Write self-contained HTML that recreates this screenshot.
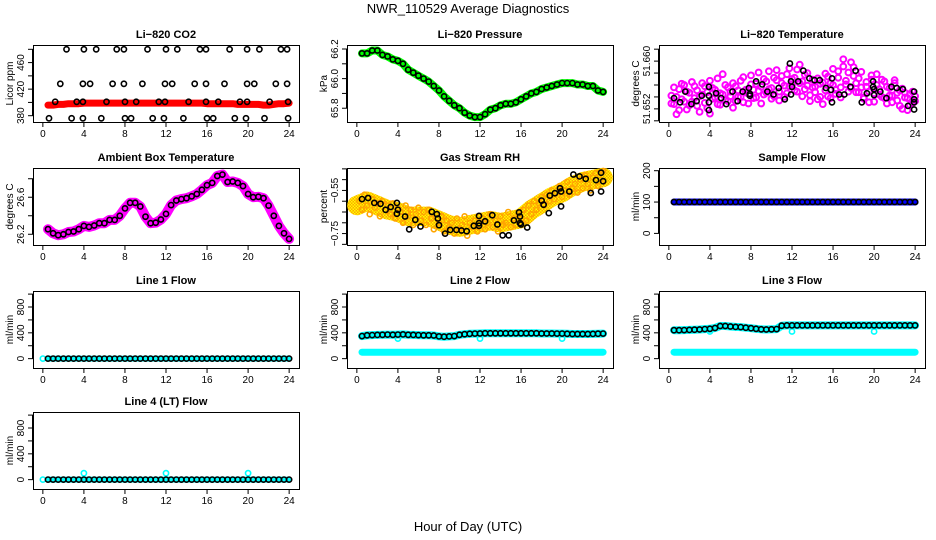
<!DOCTYPE html>
<html><head><meta charset="utf-8">
<style>
body{margin:0;background:#fff;}
svg{display:block;font-family:"Liberation Sans",Arial,sans-serif;}
</style></head>
<body>
<svg id="chart" width="936" height="540" viewBox="0 0 936 540">
<defs>
<pattern id="rhpat" width="3" height="3" patternUnits="userSpaceOnUse">
<rect width="3" height="3" fill="#ffa500"/><rect width="1.5" height="1.5" fill="#ff0"/><rect x="1.5" y="1.5" width="1.5" height="1.5" fill="#ff0"/>
</pattern>
</defs>
<text x="468" y="13" text-anchor="middle" font-size="13">NWR_110529  Average Diagnostics</text>
<text x="468" y="531" text-anchor="middle" font-size="13">Hour of Day (UTC)</text>
</svg>
<script>
const halfHours=[0.5,1,1.5,2,2.5,3,3.5,4,4.5,5,5.5,6,6.5,7,7.5,8,8.5,9,9.5,10,10.5,11,11.5,12,12.5,13,13.5,14,14.5,15,15.5,16,16.5,17,17.5,18,18.5,19,19.5,20,20.5,21,21.5,22,22.5,23,23.5,24];
const quarterHours=[0.25,0.5,0.75,1,1.25,1.5,1.75,2,2.25,2.5,2.75,3,3.25,3.5,3.75,4,4.25,4.5,4.75,5,5.25,5.5,5.75,6,6.25,6.5,6.75,7,7.25,7.5,7.75,8,8.25,8.5,8.75,9,9.25,9.5,9.75,10,10.25,10.5,10.75,11,11.25,11.5,11.75,12,12.25,12.5,12.75,13,13.25,13.5,13.75,14,14.25,14.5,14.75,15,15.25,15.5,15.75,16,16.25,16.5,16.75,17,17.25,17.5,17.75,18,18.25,18.5,18.75,19,19.25,19.5,19.75,20,20.25,20.5,20.75,21,21.25,21.5,21.75,22,22.25,22.5,22.75,23,23.25,23.5,23.75,24];
const hourly=[0,1,2,3,4,5,6,7,8,9,10,11,12,13,14,15,16,17,18,19,20,21,22,23,24];
const xTicks=[0,4,8,12,16,20,24];

// CO2
const co2Band=[396,396,397,397,398,398,398,399,399,399,399,399,399,399,399,399,399,399,399,399,399,399,399,399,399,399,399,399,399,399,399,398,398,398,398,398,398,397,397,397,397,397,396,396,397,398,398,399];
const co2Hours480=[2.3,4.0,5.2,7.2,7.9,10.2,12.0,13.1,15.3,15.9,18.2,19.9,21.1,23.2,23.8];
const co2Hours428=[1.7,3.9,4.6,6.8,7.9,9.7,11.9,12.6,14.8,15.9,17.7,19.9,20.6,22.7,23.8];
const co2Hours401=[1.2,3.3,3.9,6.2,8.0,9.1,11.3,11.9,14.2,15.9,17.1,19.2,19.9,22.1,23.9];
const co2Hours376=[0.6,2.8,3.9,5.7,8.0,8.6,10.7,11.8,13.7,16.0,16.6,18.7,19.8,21.6,23.9];
const co2Levels=[480,428,401,376];
// Pressure
const pressureVals=[66.17,66.17,66.19,66.19,66.16,66.15,66.13,66.12,66.10,66.06,66.04,66.02,66.00,65.98,65.95,65.92,65.88,65.85,65.82,65.80,65.77,65.75,65.74,65.74,65.76,65.79,65.80,65.82,65.83,65.83,65.84,65.86,65.88,65.90,65.91,65.93,65.94,65.95,65.96,65.97,65.97,65.97,65.96,65.96,65.95,65.95,65.92,65.91];
// Li-820 temperature
const tempHours=[0.5,1.1,1.6,2.2,2.7,3.2,3.9,3.9,3.9,3.9,4.6,5.1,5.6,6.2,6.7,7.2,7.8,7.9,7.9,8.5,9.1,9.6,10.2,10.7,11.3,11.8,11.9,12.0,11.9,12.6,13.1,13.7,14.2,14.7,15.3,15.8,15.9,15.9,16.6,17.1,17.7,18.2,18.8,19.3,19.9,19.9,20.0,20.0,20.6,21.2,21.7,22.2,22.8,23.3,23.9,23.9,23.9,23.9];
const tempVals=[51.6538,51.6531,51.6549,51.6528,51.6533,51.6542,51.6542,51.6531,51.6557,51.6518,51.6546,51.6538,51.6528,51.6549,51.6533,51.6549,51.6555,51.6545,51.6542,51.6566,51.6561,51.6549,51.6544,51.6555,51.6536,51.6596,51.6566,51.6557,51.6544,51.6566,51.6584,51.6571,51.6568,51.6568,51.6555,51.6552,51.6571,51.6531,51.6544,51.6544,51.6557,51.6584,51.6531,51.6546,51.6566,51.6557,51.6553,51.6543,51.6549,51.6538,51.6557,51.6555,51.6553,51.6525,51.6549,51.6536,51.6531,51.6519];
const tempCloudA=[51.6542,51.6528,51.6511,51.6553,51.6536,51.6560,51.6519,51.6547,51.6532,51.6558,51.6525,51.6541,51.6563,51.6530,51.6548,51.6512,51.6555,51.6539,51.6571,51.6527,51.6544,51.6560,51.6533,51.6549,51.6522,51.6558,51.6540,51.6567,51.6531,51.6552,51.6545,51.6576,51.6538,51.6562,51.6550,51.6529,51.6570,51.6547,51.6583,51.6555,51.6541,51.6568,51.6534,51.6575,51.6559,51.6546,51.6588,51.6561,51.6572,51.6549,51.6594,51.6566,51.6553,51.6580,51.6543,51.6569,51.6557,51.6536,51.6562,51.6528,51.6551,51.6574,51.6538,51.6560,51.6545,51.6583,51.6556,51.6591,51.6567,51.6549,51.6598,51.6575,51.6563,51.6548,51.6582,51.6539,51.6557,51.6531,51.6569,51.6546,51.6578,51.6553,51.6540,51.6566,51.6529,51.6555,51.6542,51.6568,51.6534,51.6551,51.6520,51.6547,51.6538,51.6526,51.6549,51.6533];
const tempCloudB=[51.6529,51.6556,51.6540,51.6518,51.6562,51.6532,51.6549,51.6526,51.6565,51.6538,51.6551,51.6515,51.6544,51.6558,51.6521,51.6567,51.6537,51.6552,51.6528,51.6546,51.6578,51.6535,51.6556,51.6541,51.6563,51.6533,51.6551,51.6540,51.6573,51.6548,51.6529,51.6561,51.6552,51.6539,51.6581,51.6557,51.6544,51.6566,51.6553,51.6537,51.6572,51.6585,51.6549,51.6563,51.6540,51.6578,51.6558,51.6570,51.6551,51.6586,51.6563,51.6541,51.6577,51.6559,51.6533,51.6556,51.6548,51.6571,51.6540,51.6564,51.6579,51.6541,51.6563,51.6587,51.6552,51.6572,51.6539,51.6603,51.6561,51.6581,51.6555,51.6590,51.6548,51.6571,51.6556,51.6537,51.6565,51.6549,51.6576,51.6532,51.6560,51.6544,51.6569,51.6538,51.6557,51.6542,51.6531,51.6563,51.6547,51.6525,51.6554,51.6539,51.6518,51.6545,51.6530,51.6541];
// Ambient
const ambientVals=[26.255,26.21,26.19,26.20,26.225,26.23,26.255,26.29,26.28,26.295,26.32,26.32,26.355,26.355,26.40,26.48,26.54,26.54,26.50,26.39,26.32,26.325,26.36,26.42,26.515,26.565,26.58,26.59,26.61,26.635,26.68,26.73,26.755,26.83,26.845,26.765,26.77,26.755,26.72,26.635,26.60,26.605,26.59,26.51,26.40,26.29,26.21,26.15];
// RH
const rhHours=[0.5,1.1,1.7,2.3,2.8,3.3,3.9,3.9,4.0,4.7,5.1,5.7,6.2,7.3,7.8,7.9,8.0,8.6,9.1,9.7,10.2,10.7,11.4,11.9,11.9,11.9,12.5,13.2,13.7,14.2,14.8,15.3,15.8,15.9,15.9,16.0,16.6,18.0,18.2,18.7,18.8,19.3,19.8,19.9,19.9,20.7,21.1,21.7,22.3,22.8,23.3,23.8,24.0,23.8];
const rhVals=[-0.590,-0.585,-0.608,-0.612,-0.640,-0.627,-0.608,-0.658,-0.640,-0.671,-0.730,-0.686,-0.717,-0.649,-0.660,-0.680,-0.711,-0.750,-0.733,-0.733,-0.736,-0.739,-0.714,-0.668,-0.714,-0.702,-0.693,-0.665,-0.708,-0.758,-0.758,-0.689,-0.652,-0.671,-0.702,-0.708,-0.722,-0.597,-0.616,-0.655,-0.574,-0.563,-0.540,-0.555,-0.624,-0.555,-0.476,-0.485,-0.496,-0.562,-0.502,-0.468,-0.507,-0.555];
const rhTrend=[-0.62,-0.60,-0.62,-0.64,-0.65,-0.67,-0.67,-0.67,-0.69,-0.71,-0.72,-0.71,-0.70,-0.69,-0.70,-0.69,-0.68,-0.64,-0.61,-0.58,-0.56,-0.53,-0.51,-0.50,-0.49];
const rhCloud=[-0.60,-0.64,-0.57,-0.62,-0.66,-0.59,-0.63,-0.61,-0.67,-0.60,-0.64,-0.62,-0.66,-0.61,-0.68,-0.63,-0.65,-0.70,-0.62,-0.67,-0.64,-0.71,-0.66,-0.63,-0.69,-0.65,-0.71,-0.64,-0.68,-0.73,-0.66,-0.70,-0.67,-0.74,-0.69,-0.72,-0.70,-0.75,-0.68,-0.73,-0.71,-0.67,-0.76,-0.70,-0.72,-0.69,-0.74,-0.71,-0.68,-0.73,-0.70,-0.66,-0.72,-0.69,-0.74,-0.67,-0.71,-0.70,-0.65,-0.72,-0.68,-0.71,-0.66,-0.70,-0.64,-0.69,-0.62,-0.66,-0.60,-0.64,-0.61,-0.58,-0.62,-0.57,-0.60,-0.55,-0.59,-0.56,-0.53,-0.58,-0.55,-0.51,-0.57,-0.54,-0.52,-0.56,-0.50,-0.54,-0.48,-0.52,-0.55,-0.49,-0.47,-0.53,-0.50,-0.46];
// Flows
const sampleVals=[100,100,100,100,100,100,100,100,100,100,100,100,100,100,100,100,100,100,100,100,100,100,100,100,100,100,100,100,100,100,100,100,100,100,100,100,100,100,100,100,100,100,100,100,100,100,100,100];
const zeroVals=[0,0,0,0,0,0,0,0,0,0,0,0,0,0,0,0,0,0,0,0,0,0,0,0,0,0,0,0,0,0,0,0,0,0,0,0,0,0,0,0,0,0,0,0,0,0,0,0];
const lowFlowVals=[100,100,100,100,100,100,100,100,100,100,100,100,100,100,100,100,100,100,100,100,100,100,100,100,100,100,100,100,100,100,100,100,100,100,100,100,100,100,100,100,100,100,100,100,100,100,100,100];
const line2Vals=[350,362,365,368,370,372,370,372,375,370,368,365,362,362,358,345,340,345,350,370,378,385,388,390,392,392,392,392,392,392,392,392,392,392,392,390,390,390,388,388,385,382,382,382,382,384,386,388];
const line3Vals=[440,440,442,445,448,452,458,462,475,505,505,498,492,488,480,472,462,455,452,455,458,510,515,515,515,515,515,515,515,515,515,515,515,515,515,515,515,515,515,515,515,515,515,515,515,515,515,515];
const outlierHours=[4,12,20];
const line2Outliers=[310,310,310];
const line3Outliers=[420,420,420];
const line4Outliers=[100,100,100];

const NS='http://www.w3.org/2000/svg';
const svg=document.getElementById('chart');
const COL_L=[33,347,659], ROW_T=[45,168,291,412], W=266, H=77, XLIM=[-0.96,24.96];
function mk(tag,attrs,parent){const e=document.createElementNS(NS,tag);for(const k in attrs)e.setAttribute(k,attrs[k]);(parent||svg).appendChild(e);return e;}

function panel(col,row,name,title,ylab,ylim,yticks,ylabels){
  const g=mk('g',{});
  
  
  const L=COL_L[col],T=ROW_T[row];
  const P={g,L,T,
    x:h=>L+(h-XLIM[0])/(XLIM[1]-XLIM[0])*W,
    y:v=>T+(ylim[1]-v)/(ylim[1]-ylim[0])*H,
    ppu:H/(ylim[1]-ylim[0])};
  const t=mk('text',{x:L+W/2,y:T-7,'text-anchor':'middle','font-size':11,'font-weight':'bold'},g);
  t.textContent=title;
  
  
  const yl=mk('text',{x:0,y:0,'text-anchor':'middle','font-size':10,transform:`translate(${L-20},${T+H/2}) rotate(-90)`},g);
  yl.textContent=ylab;
  
  
  const xa=mk('g',{stroke:'#000','stroke-width':1},g);
  
  
  mk('line',{x1:P.x(xTicks[0]),x2:P.x(xTicks[xTicks.length-1]),y1:T+H+0.5,y2:T+H+0.5},xa);
  xTicks.forEach(v=>{
    mk('line',{x1:P.x(v),x2:P.x(v),y1:T+H,y2:T+H+5},xa);
    const tl=mk('text',{x:P.x(v),y:T+H+15,'text-anchor':'middle','font-size':10,stroke:'none'},xa);
    tl.textContent=v;
  });
  const ya=mk('g',{stroke:'#000','stroke-width':1},g);
  
  
  mk('line',{x1:L-0.5,x2:L-0.5,y1:P.y(yticks[0]),y2:P.y(yticks[yticks.length-1])},ya);
  yticks.forEach(v=>mk('line',{x1:L-5,x2:L,y1:P.y(v),y2:P.y(v)},ya));
  ylabels.forEach(v=>{
    const tl=mk('text',{x:0,y:0,'text-anchor':'middle','font-size':10,stroke:'none',transform:`translate(${L-9},${P.y(v)}) rotate(-90)`},ya);
    tl.textContent=String(v).replace('-','\u2212');
  });
  const box=mk('rect',{x:L+0.5,y:T+0.5,width:W,height:H,fill:'none',stroke:'#000','stroke-width':1},g);
  
  
  return P;
}
function band(P,xs,ys,color,width,name){
  const pts=xs.map((h,i)=>P.x(h).toFixed(1)+','+P.y(ys[i]).toFixed(1)).join(' ');
  const e=mk('polyline',{points:pts,fill:'none',stroke:color,'stroke-width':width,'stroke-linejoin':'round','stroke-linecap':'round'},P.g);
  
  
}
function points(P,xs,ys,color,name,r,sw){
  const g=mk('g',{fill:'none',stroke:color,'stroke-width':sw||1.6},P.g);
  
  
  xs.forEach((h,i)=>{
    const c=mk('circle',{cx:P.x(h).toFixed(1),cy:P.y(ys[i]).toFixed(1),r:r||2.6},g);
    
    
  });
}
function rng(a,b,s){const o=[];for(let v=a;v<=b+1e-9;v+=s)o.push(+v.toFixed(4));return o;}

// Panel 1: CO2
let P=panel(0,0,'co2','Li\u2212820 CO2','Licor ppm',[370.5,486.5],rng(380,480,20),[380,420,460]);
band(P,halfHours,co2Band,'#f00',7,'co2-band');
[co2Hours480,co2Hours428,co2Hours401,co2Hours376].forEach((hs,k)=>points(P,hs,hs.map(()=>co2Levels[k]),'#000','co2-points-'+co2Levels[k]));
// Panel 2: pressure
P=panel(1,0,'pressure','Li\u2212820 Pressure','kPa',[65.707,66.227],rng(65.8,66.2,0.1),['65.8','66.0','66.2']);
band(P,halfHours,pressureVals,'#0f0',8,'pressure-band');
points(P,halfHours,pressureVals,'#000','pressure-points');
// Panel 3: temperature
P=panel(2,0,'li820-temp','Li\u2212820 Temperature','degrees C',[51.6498,51.6627],rng(51.650,51.662,0.002),['51.652','51.660']);
points(P,quarterHours,tempCloudA,'#f0f','temp-cloud-a',2.9,2);
points(P,quarterHours,tempCloudB,'#f0f','temp-cloud-b',2.9,2);
points(P,tempHours,tempVals,'#000','temp-points');
// Panel 4: ambient
P=panel(0,1,'ambient','Ambient Box Temperature','degrees C',[26.084,26.916],rng(26.2,26.8,0.2),['26.2','26.6']);
band(P,halfHours,ambientVals,'#f0f',10,'ambient-band');
points(P,halfHours,ambientVals,'#000','ambient-points');
// Panel 5: RH
P=panel(1,1,'rh','Gas Stream RH','percent',[-0.803,-0.446],rng(-0.80,-0.45,0.05),['-0.75','-0.55']);
band(P,hourly,rhTrend,'url(#rhpat)',0.09*P.ppu,'rh-band');
points(P,quarterHours,rhCloud,'#ffa500','rh-cloud',2.5);
points(P,rhHours,rhVals,'#000','rh-points');
// Panel 6: sample flow
P=panel(2,1,'sample-flow','Sample Flow','ml/min',[-37,208.6],rng(0,200,50),[0,100,200]);
band(P,halfHours,sampleVals,'#0000ff',7,'sample-band');
points(P,halfHours,sampleVals,'#000','sample-points');
// Panel 7: line 1
const FL=[-145,1048], FT=rng(0,1000,200), FLab=[0,400,800];
P=panel(0,2,'line1','Line 1 Flow','ml/min',FL,FT,FLab);
band(P,halfHours,zeroVals,'#0ff',6,'line1-band');
points(P,[0],[0],'#0ff','line1-cyan');
points(P,halfHours,zeroVals,'#000','line1-points');
// Panel 8: line 2
P=panel(1,2,'line2','Line 2 Flow','ml/min',FL,FT,FLab);
band(P,halfHours,lowFlowVals,'#0ff',7,'line2-low-band');
band(P,halfHours,line2Vals,'#0ff',8,'line2-band');
points(P,outlierHours,line2Outliers,'#0ff','line2-outliers');
points(P,halfHours,line2Vals,'#000','line2-points');
// Panel 9: line 3
P=panel(2,2,'line3','Line 3 Flow','ml/min',FL,FT,FLab);
band(P,halfHours,lowFlowVals,'#0ff',7,'line3-low-band');
band(P,halfHours,line3Vals,'#0ff',8,'line3-band');
points(P,outlierHours,line3Outliers,'#0ff','line3-outliers');
points(P,halfHours,line3Vals,'#000','line3-points');
// Panel 10: line 4
P=panel(0,3,'line4','Line 4 (LT) Flow','ml/min',FL,FT,FLab);
band(P,halfHours,zeroVals,'#0ff',6,'line4-band');
points(P,[0],[0],'#0ff','line4-cyan');
points(P,outlierHours,line4Outliers,'#0ff','line4-outliers');
points(P,halfHours,zeroVals,'#000','line4-points');
</script>
</body></html>
